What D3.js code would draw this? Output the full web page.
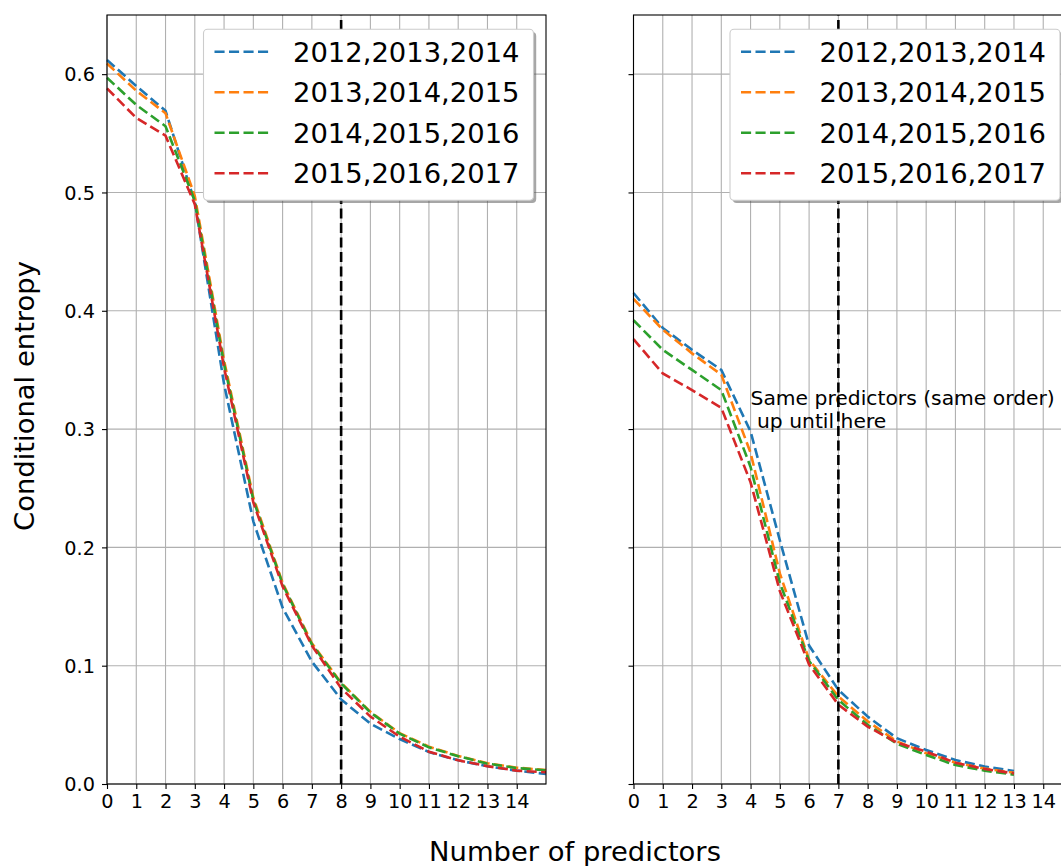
<!DOCTYPE html>
<html><head><meta charset="utf-8">
<script src="https://cdn.jsdelivr.net/npm/d3@7"></script>
<style>body{margin:0;background:#fff} text{font-family:"DejaVu Sans",sans-serif}</style>
</head><body><svg id="c" width="1061" height="866"></svg>
<script>
// ---- data ----
const seriesNames = ["2012,2013,2014", "2013,2014,2015", "2014,2015,2016", "2015,2016,2017"];
const seriesColors = ["#1f77b4", "#ff7f0e", "#2ca02c", "#d62728"];

const predictorsLeft = [0,1,2,3,4,5,6,7,8,9,10,11,12,13,14,15];
const left2012 = [0.612,0.590,0.569,0.492,0.338,0.222,0.149,0.1035,0.0715,0.051,0.038,0.027,0.020,0.015,0.0113,0.0085];
const left2013 = [0.609,0.586,0.567,0.497,0.358,0.242,0.170,0.119,0.0855,0.061,0.043,0.0316,0.0237,0.0175,0.0138,0.0118];
const left2014 = [0.597,0.574,0.556,0.493,0.355,0.240,0.169,0.118,0.085,0.0605,0.0425,0.031,0.0235,0.0172,0.0135,0.0115];
const left2015 = [0.588,0.563,0.548,0.490,0.352,0.238,0.167,0.117,0.081,0.057,0.040,0.0273,0.020,0.015,0.0113,0.0099];

const predictorsRight = [0,1,2,3,4,5,6,7,8,9,10,11,12,13];
const right2012 = [0.415,0.3855,0.367,0.350,0.298,0.206,0.117,0.0795,0.057,0.0387,0.0288,0.0203,0.0147,0.011];
const right2013 = [0.410,0.384,0.364,0.346,0.280,0.178,0.105,0.074,0.053,0.036,0.026,0.018,0.013,0.0095];
const right2014 = [0.392,0.367,0.350,0.333,0.268,0.170,0.104,0.071,0.050,0.034,0.0245,0.016,0.0113,0.0079];
const right2015 = [0.376,0.347,0.333,0.318,0.255,0.163,0.101,0.067,0.0485,0.035,0.0273,0.018,0.0127,0.009];

const xTickValues = [0,1,2,3,4,5,6,7,8,9,10,11,12,13,14];
const xTickLabels = ["0","1","2","3","4","5","6","7","8","9","10","11","12","13","14"];
const yTickValues = [0.0,0.1,0.2,0.3,0.4,0.5,0.6];
const yTickLabels = ["0.0","0.1","0.2","0.3","0.4","0.5","0.6"];
const xDomain = [0, 15];
const yDomain = [0, 0.65];
const cutoffLeft = 8, cutoffRight = 7;
const annotationLines = ["Same predictors (same order)", " up until here"];
const annotationAt = [4, 0.3];
const xLabel = "Number of predictors";
const yLabel = "Conditional entropy";

// ---- layout ----
const svg = d3.select("#c");
svg.append("rect").attr("width",1061).attr("height",866).attr("fill","#fff");
const plotTop = 15, plotBottom = 784, pw = 439;
const y = d3.scaleLinear().domain(yDomain).range([plotBottom, plotTop]);
const dash = "10.1,4.4";
const lw = 2.6;

function panel(left, predictors, seriesVals, cutoff, showYLabels, annot) {
  const x = d3.scaleLinear().domain(xDomain).range([left, left + pw]);
  const g = svg.append("g");
  // grid
  g.selectAll(".gx").data(xTickValues).enter().append("line")
    .attr("x1", d=>x(d)).attr("x2", d=>x(d)).attr("y1", plotTop).attr("y2", plotBottom)
    .attr("stroke","#b0b0b0").attr("stroke-width",1.1);
  g.selectAll(".gy").data(yTickValues).enter().append("line")
    .attr("x1", left).attr("x2", left+pw).attr("y1", d=>y(d)).attr("y2", d=>y(d))
    .attr("stroke","#b0b0b0").attr("stroke-width",1.1);
  // curves
  const line = d3.line().x((d,i)=>x(predictors[i])).y(d=>y(d));
  seriesVals.forEach((vals, i) => {
    g.append("path").datum(vals).attr("d", line).attr("fill","none")
      .attr("stroke", seriesColors[i]).attr("stroke-width", lw).attr("stroke-dasharray", dash);
  });
  // cutoff line
  g.append("line").attr("x1", x(cutoff)).attr("x2", x(cutoff)).attr("y1", plotBottom).attr("y2", plotTop)
    .attr("stroke","#000").attr("stroke-width", lw).attr("stroke-dasharray", dash);
  // axes
  const xa = d3.axisBottom(x).tickValues(xTickValues).tickFormat((d,i)=>xTickLabels[i]).tickSize(5).tickPadding(5);
  const xg = g.append("g").attr("transform", `translate(0,${plotBottom})`).call(xa);
  const ya = d3.axisLeft(y).tickValues(yTickValues).tickFormat((d,i)=>showYLabels ? yTickLabels[i] : "").tickSize(5).tickPadding(7);
  const yg = g.append("g").attr("transform", `translate(${left},0)`).call(ya);
  [xg, yg].forEach(a => {
    a.select(".domain").remove();
    a.selectAll(".tick line").attr("stroke","#000").attr("stroke-width",1.1);
    a.selectAll("text").attr("font-size","19.3px").attr("fill","#000").attr("font-family","DejaVu Sans");
  });
  yg.selectAll("text").attr("dy","0.35em");
  // spines
  g.append("rect").attr("x", left).attr("y", plotTop).attr("width", pw).attr("height", plotBottom-plotTop)
    .attr("fill","none").attr("stroke","#000").attr("stroke-width",1.1);
  // annotation
  if (annot) {
    const t = g.append("text").attr("font-size","20.3px").attr("fill","#000").style("white-space","pre");
    annotationLines.forEach((s, i) => {
      t.append("tspan").attr("x", x(annotationAt[0])).attr("y", y(annotationAt[1]) - 1.5 - (annotationLines.length-1-i)*22.6).text(s);
    });
  }
  // legend
  const lx = left + 96.5, ly = 29.3, lwid = 330, lh = 171;
  const lg = svg.append("g");
  lg.append("rect").attr("x", lx+2.7).attr("y", ly+2.7).attr("width", lwid).attr("height", lh).attr("rx",4)
    .attr("fill","#4d4d4d").attr("opacity",0.5);
  lg.append("rect").attr("x", lx).attr("y", ly).attr("width", lwid).attr("height", lh).attr("rx",4)
    .attr("fill","#fff").attr("stroke","#cccccc").attr("stroke-width",1.1);
  seriesNames.forEach((n, i) => {
    const yy = 51.7 + i*40.5;
    lg.append("line").attr("x1", lx+11).attr("x2", lx+66).attr("y1", yy).attr("y2", yy)
      .attr("stroke", seriesColors[i]).attr("stroke-width", lw).attr("stroke-dasharray", dash);
    lg.append("text").attr("x", lx+89.5).attr("y", yy+10).attr("font-size","27.4px").attr("fill","#000").text(n);
  });
}

panel(107, predictorsLeft, [left2012, left2013, left2014, left2015], cutoffLeft, true, false);
panel(633.5, predictorsRight, [right2012, right2013, right2014, right2015], cutoffRight, false, true);

svg.append("text").attr("x", 575).attr("y", 860.5).attr("text-anchor","middle")
  .attr("font-size","27.4px").attr("fill","#000").text(xLabel);
svg.append("text").attr("transform","translate(34,396) rotate(-90)").attr("text-anchor","middle")
  .attr("font-size","27.4px").attr("fill","#000").text(yLabel);
</script></body></html>
